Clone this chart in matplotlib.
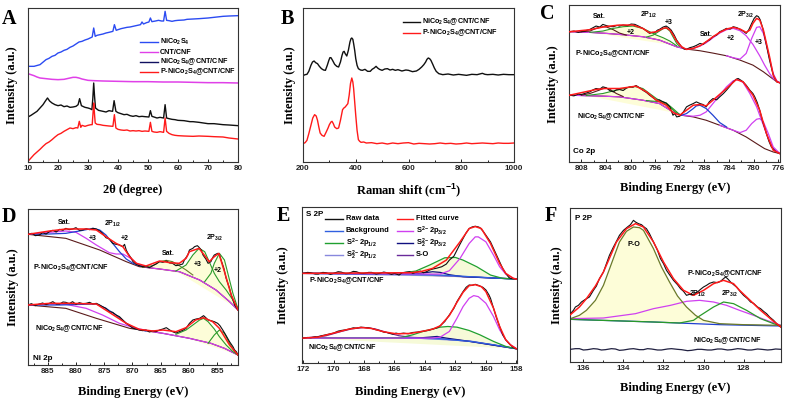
import matplotlib
matplotlib.use('Agg')
import matplotlib.pyplot as plt
from matplotlib.ticker import MultipleLocator
from matplotlib.lines import Line2D

plt.rcParams['font.family'] = ['Liberation Sans', 'DejaVu Sans']
plt.rcParams['font.weight'] = 'bold'
plt.rcParams['mathtext.fontset'] = 'custom'
plt.rcParams['mathtext.rm'] = 'Liberation Sans:bold'
plt.rcParams['mathtext.it'] = 'Liberation Sans:bold'
plt.rcParams['mathtext.bf'] = 'Liberation Sans:bold'
plt.rcParams['mathtext.default'] = 'rm'

# ---------------- Panel A: XRD ----------------
A_NICO = [(10,287),(12,287),(14,292),(16,307),(17,311),(18,317),(19,320),(20,327),(21,330),(22,335),(23,338),(24,344),(25,348),(26,354),(27,360),(28,362),(29,366),(30,369),(31.4,375),(31.9,402),(32.4,377),(33,380),(34,382),(35,384),(36,387),(37,389),(38.3,392),(38.8,412),(39.4,395),(40,397),(41,400),(42,402),(43,404),(44,405),(45,407),(46,409),(47.5,412),(48,420),(48.5,414),(49.5,418),(50.3,420),(50.8,432),(51.3,421),(52.5,423),(53.5,425),(54.5,423),(55.2,423),(55.7,452),(56.2,425),(57,424),(58,422),(59,424),(60,425),(62,426),(63,428),(65,429),(67,430),(70,432),(72,434),(75,437),(77,438),(80,439)]
A_CNT = [(10,265),(11,262),(12,259),(13,255),(14,252),(16,250),(18,248),(20,247),(22,248),(23,250),(24,252),(25,254),(26,254),(27,252),(28,249),(30,245),(32,244),(35,243),(40,242),(45,241),(50,241),(55,240),(60,240),(65,239),(70,238),(75,238),(80,237)]
A_NICO_CNT = [(10,135),(11,140),(12,146),(13,152),(14,162),(15,172),(15.8,183),(16.5,192),(17.2,183),(18,177),(19,172),(20,169),(21,171),(22,166),(23,168),(24,164),(25,165),(26,167),(26.7,172),(27.2,190),(27.8,169),(28.5,166),(29,164),(30,162),(30.7,160),(31.3,157),(31.6,190),(31.9,237),(32.2,195),(32.5,162),(33.5,155),(35,152),(36,150),(37,154),(38.2,152),(38.7,184),(39.3,152),(40,148),(41,145),(42,142),(43,143),(44,139),(45,137),(46,139),(47,136),(48,137),(49,136),(50.3,135),(50.8,154),(51.3,137),(52,135),(53,132),(54,134),(55.2,132),(55.7,172),(56.2,132),(57,130),(58,128),(59,127),(60,125),(62,124),(64,121),(65,121),(67,119),(70,115),(72,115),(75,112),(77,111),(80,109)]
A_P_NICO_CNT = [(10,2),(11,12),(12,22),(13,30),(14,38),(15,47),(16,55),(17,60),(18,67),(19,75),(20,82),(21,86),(22,92),(23,97),(24,102),(25,100),(26,103),(26.6,102),(27.1,122),(27.6,104),(28,110),(29,107),(30,110),(31,112),(31.4,112),(31.7,150),(31.9,177),(32.2,140),(32.4,117),(33,113),(34,112),(35,110),(36,109),(37,108),(38.3,107),(38.8,142),(39.3,102),(40,98),(41,96),(42,95),(43,96),(44,93),(45,94),(46,93),(47,94),(48,92),(49,93),(50.3,92),(50.8,119),(51.3,92),(52,90),(53,89),(54,91),(55.2,89),(55.7,132),(56.2,92),(57,86),(58,82),(59,80),(60,79),(62,78),(65,77),(67,78),(70,77),(72,76),(75,75),(77,72),(80,69)]
A_LABELS = ['NiCo$_2$S$_4$', 'CNT/CNF', 'NiCo$_2$S$_4$@CNT/CNF', 'P-NiCo$_2$S$_4$@CNT/CNF']

# ---------------- Panel B: Raman ----------------
B_NICO_CNT = [(200,259),(208,262),(215,263),(222,272),(230,290),(236,300),(242,303),(248,298),(255,295),(262,287),(270,280),(278,276),(285,275),(292,290),(298,305),(302,313),(306,313),(312,305),(320,293),(328,287),(335,285),(342,300),(348,320),(352,330),(356,332),(360,325),(366,318),(372,335),(378,360),(382,370),(385,372),(389,368),(392,355),(396,335),(400,310),(405,290),(410,280),(418,276),(425,275),(435,278),(445,272),(455,272),(462,278),(470,282),(477,287),(483,282),(490,278),(500,275),(510,279),(520,280),(530,276),(540,278),(550,275),(560,277),(575,273),(590,276),(600,275),(615,271),(630,273),(640,278),(650,285),(658,292),(665,300),(670,308),(675,312),(680,310),(685,305),(692,293),(698,282),(705,272),(715,265),(730,262),(750,264),(770,261),(790,263),(800,262),(820,260),(840,263),(860,262),(880,266),(890,263),(900,262),(920,263),(940,261),(960,263),(980,262),(1000,262)]
B_P_NICO_CNT = [(200,55),(208,58),(215,65),(222,85),(230,110),(237,132),(244,142),(250,138),(255,125),(260,105),(265,87),(272,80),(280,77),(288,90),(295,102),(300,112),(306,120),(310,122),(315,115),(320,105),(328,100),(335,102),(342,125),(350,157),(355,162),(360,165),(365,170),(370,175),(375,200),(380,235),(385,252),(389,240),(392,220),(396,180),(400,140),(405,95),(410,67),(415,62),(420,59),(430,60),(440,57),(460,58),(480,55),(500,57),(520,54),(540,57),(560,55),(580,57),(600,58),(620,54),(640,56),(660,55),(680,54),(700,55),(720,57),(740,55),(760,56),(780,54),(800,55),(820,57),(840,55),(860,56),(880,57),(900,56),(920,55),(940,57),(960,56),(980,56),(1000,57)]
B_LABELS = ['NiCo$_2$S$_4$@CNT/CNF', 'P-NiCo$_2$S$_4$@CNT/CNF']

# ---------------- Panel C: Co 2p ----------------
C_UP_RAW = [(809.9,390),(809.2,392),(808.5,388),(808.0,390),(807.3,393),(806.6,397),(806.1,402),(805.6,407),(805.0,404),(804.5,412),(804.2,410),(803.5,406),(802.8,405),(802.2,409),(801.8,407),(801.2,410),(800.5,408),(799.9,413),(799.3,412),(798.6,406),(798.0,400),(797.4,392),(796.9,385),(796.5,388),(796.1,387),(795.6,395),(795.3,397),(794.7,404),(794.2,407),(793.8,402),(793.4,395),(792.9,380),(792.5,365),(792.0,352),(791.7,345),(791.3,338),(790.9,337),(790.4,342),(789.8,345),(789.3,349),(788.7,355),(788.2,352),(787.7,360),(787.1,366),(786.6,375),(786.0,380),(785.5,390),(784.9,395),(784.4,400),(783.8,398),(783.3,405),(782.7,402),(782.2,397),(781.7,392),(781.2,385),(780.8,395),(780.3,415),(779.9,430),(779.5,438),(779.2,435),(778.9,425),(778.5,400),(778.2,375),(777.8,340),(777.4,305),(777.0,275),(776.7,255),(776.4,245),(776.2,240),(775.7,237)]
C_UP_FIT = [(809.9,390),(806.6,396),(804.2,405),(801.8,410),(799.6,410),(798.0,400),(796.9,387),(795.8,390),(794.7,400),(794.2,402),(793.6,395),(793.0,378),(792.5,362),(791.7,345),(790.9,337),(789.8,340),(788.7,348),(787.7,360),(786.6,375),(785.5,388),(784.4,398),(783.3,403),(782.2,398),(781.2,388),(780.6,395),(780.1,415),(779.5,430),(779.0,425),(778.4,395),(777.9,355),(777.4,315),(776.8,260),(776.2,240),(775.7,237)]
C_UP_BG = [(809.9,390),(806.6,388),(803.9,385),(801.2,381),(798.0,375),(795.3,365),(792.5,345),(790.9,338),(788.7,333),(786.6,326),(784.4,318),(782.2,305),(780.1,290),(778.4,270),(777.1,252),(776.2,240),(775.7,237)]
C_UP_SAT = [(808.0,390),(806.6,392),(805.6,400),(804.5,405),(803.9,404),(802.8,396),(801.8,386),(800.7,380)]
C_UP_CO2_12 = [(806.6,388),(804.5,392),(802.8,400),(801.2,405),(799.6,407),(798.0,400),(796.9,390),(795.8,380),(794.7,372),(793.6,362),(792.5,348)]
C_UP_CO3_12 = [(797.4,374),(796.3,380),(795.3,392),(794.7,399),(794.2,401),(793.6,392),(793.1,375),(792.5,355),(792.0,346)]
C_UP_CO2_32 = [(809.9,390),(806.6,388),(803.9,385),(801.2,381),(798.0,375),(795.3,365),(792.5,345),(790.9,338),(789.8,340),(788.7,347),(787.7,357),(786.6,372),(785.5,386),(784.4,396),(783.3,400),(782.2,393),(781.2,378),(780.1,352),(779.0,318),(778.2,290),(777.4,265),(776.7,248),(775.7,237)]
C_UP_CO3_32 = [(784.4,318),(783.3,312),(782.2,308),(781.2,325),(780.3,370),(779.5,403),(779.0,405),(778.4,385),(777.9,350),(777.4,310),(776.8,265),(776.2,242),(775.7,237)]

C_LO_RAW = [(809.9,200),(809.2,198),(808.5,203),(808.0,202),(807.3,206),(806.6,210),(806.1,216),(805.6,220),(805.0,218),(804.5,225),(803.9,222),(803.4,214),(802.8,210),(802.3,216),(801.8,217),(801.2,214),(800.6,222),(800.1,225),(799.6,224),(799.1,229),(798.5,222),(798.0,215),(797.4,208),(796.9,200),(796.3,192),(795.8,185),(795.3,186),(794.7,180),(794.2,176),(793.6,165),(793.1,140),(792.8,145),(792.5,135),(792.0,137),(791.4,150),(790.9,165),(790.4,170),(789.8,175),(789.3,180),(788.7,175),(788.2,172),(787.7,165),(787.2,180),(786.6,190),(786.0,186),(785.5,195),(784.9,205),(784.4,215),(783.8,228),(783.3,240),(782.8,248),(782.5,250),(782.0,244),(781.7,240),(781.2,230),(780.6,215),(780.1,205),(779.8,195),(779.4,178),(779.0,155),(778.5,120),(777.9,85),(777.5,62),(777.1,45),(776.6,35),(776.3,30),(775.7,25)]
C_LO_FIT = [(809.9,200),(805.6,217),(804.2,220),(801.8,220),(799.1,227),(797.4,210),(795.8,185),(794.2,170),(793.1,148),(792.0,140),(790.9,155),(789.8,170),(788.7,172),(787.7,168),(786.6,185),(784.4,220),(782.8,247),(781.7,240),(780.1,200),(779.0,155),(777.9,85),(776.8,35),(775.7,25)]
C_LO_BG = [(809.9,200),(804.2,197),(801.8,195),(798.0,185),(795.3,175),(793.1,150),(791.7,140),(789.8,135),(787.7,125),(785.5,110),(783.3,95),(781.2,75),(779.5,55),(778.2,40),(776.8,30),(775.7,25)]
C_LO_SAT = [(808.0,200),(806.6,205),(805.1,215),(804.2,222),(803.4,218),(802.3,205),(801.2,196)]
C_LO_CO2_12 = [(807.2,199),(804.5,205),(802.3,215),(800.7,222),(799.3,226),(798.0,220),(796.9,205),(795.8,190),(794.7,178),(793.6,165),(792.5,146)]
C_LO_CO3_12 = [(797.4,184),(796.3,182),(795.3,181),(794.7,180),(794.2,177),(793.1,160),(792.0,142)]
C_LO_SAT2 = [(791.7,140),(790.9,145),(789.8,160),(789.3,168),(788.7,170),(787.7,160),(786.6,140),(785.5,118),(784.4,105)]
C_LO_CO2_32 = [(809.9,200),(804.2,197),(801.8,195),(798.0,185),(795.3,175),(793.1,150),(791.7,140),(789.8,137),(788.7,140),(787.7,150),(786.6,175),(785.5,200),(784.4,225),(783.3,243),(782.5,247),(781.7,238),(780.6,205),(779.5,165),(778.4,110),(777.6,70),(776.8,40),(775.7,25)]
C_LO_CO3_32 = [(785.5,110),(783.3,95),(782.2,88),(781.2,95),(780.3,115),(779.5,128),(779.0,130),(778.4,120),(777.6,85),(776.8,45),(775.7,25)]

# ---------------- Panel D: Ni 2p ----------------
D_UP_RAW = [(888.5,392),(887.8,395),(887.2,388),(886.5,390),(885.9,397),(885.3,393),(884.7,400),(884.1,404),(883.5,399),(882.9,407),(882.3,404),(881.8,410),(881.2,406),(880.6,408),(880.0,412),(879.4,404),(878.8,405),(878.2,409),(877.6,406),(877.0,410),(876.4,408),(875.8,402),(875.3,395),(874.7,382),(874.1,378),(873.5,365),(872.9,362),(872.3,360),(871.7,355),(871.4,362),(871.1,345),(870.8,335),(870.2,320),(869.9,310),(869.3,302),(868.8,298),(868.2,295),(867.6,295),(867.0,292),(866.4,298),(865.8,303),(865.2,310),(864.6,308),(864.0,312),(863.4,306),(862.9,305),(862.3,298),(861.7,300),(861.1,303),(860.8,315),(860.2,330),(859.9,345),(859.3,350),(859.0,355),(858.5,358),(858.2,353),(857.8,345),(857.5,330),(857.0,318),(856.6,305),(856.1,310),(855.8,322),(855.5,330),(854.9,335),(854.6,332),(854.3,315),(853.8,290),(853.4,260),(852.8,230),(852.5,210),(851.9,180),(851.6,172),(851.3,165)]
D_UP_FIT = [(888.5,392),(884.7,402),(881.8,408),(878.2,408),(876.4,405),(874.7,385),(872.9,365),(871.7,355),(870.5,325),(869.3,305),(867.6,297),(865.2,312),(863.4,307),(861.7,305),(860.5,320),(859.9,340),(858.2,350),(857.2,328),(856.4,310),(855.5,325),(854.7,335),(853.7,280),(852.5,210),(851.3,165)]
D_UP_BG = [(888.5,392),(881.8,380),(875.8,345),(871.1,310),(868.8,295),(865.2,288),(861.7,280),(858.1,255),(855.2,225),(852.8,190),(851.3,165)]
D_UP_SAT = [(888.5,392),(884.7,398),(881.8,402),(880.0,398),(878.2,380),(876.4,360),(874.1,337),(872.9,333),(871.7,333),(870.5,322),(869.3,305),(867.6,293),(865.2,288),(861.7,280),(858.1,255),(855.2,225),(852.8,190),(851.3,165)]
D_UP_NI3_12 = [(888.5,392),(884.7,393),(881.8,395),(879.4,402),(877.0,410),(875.8,405),(874.7,390),(873.5,365),(872.3,340),(871.1,318),(869.9,305),(868.8,298),(867.6,295)]
D_UP_SAT32 = [(868.2,293),(866.4,298),(865.2,310),(864.0,314),(862.9,310),(861.7,298),(860.5,285),(859.3,270)]
D_UP_NI3_32 = [(862.3,282),(860.5,300),(859.3,330),(858.2,350),(857.2,340),(856.4,310),(855.5,275),(854.6,250),(853.4,225),(852.2,195),(851.3,168)]
D_UP_NI2_32 = [(857.2,250),(856.1,275),(855.5,305),(854.6,335),(853.7,315),(852.8,255),(852.2,215),(851.3,168)]

D_LO_RAW = [(888.5,180),(887.9,184),(887.2,178),(886.5,183),(885.9,186),(885.3,181),(884.7,185),(884.1,190),(883.5,183),(882.9,183),(882.3,189),(881.8,188),(881.2,184),(880.6,190),(880.0,182),(879.4,187),(878.8,184),(878.2,185),(877.6,188),(877.0,183),(876.4,185),(875.8,180),(875.3,175),(874.7,170),(874.1,160),(873.5,158),(872.9,150),(872.3,145),(871.7,135),(871.1,125),(870.5,118),(869.9,110),(869.3,108),(868.8,105),(868.2,103),(867.6,105),(867.0,99),(866.4,102),(865.8,100),(865.2,105),(864.6,108),(864.0,112),(863.4,105),(862.9,100),(862.3,96),(861.7,100),(861.1,104),(860.5,110),(859.9,125),(859.3,135),(858.7,138),(858.1,140),(857.4,148),(857.0,142),(856.6,135),(856.1,133),(855.5,130),(854.9,125),(854.5,118),(854.0,105),(853.4,88),(852.8,70),(852.2,55),(851.9,45),(851.6,40),(851.3,30)]
D_LO_FIT = [(888.5,180),(884.7,185),(881.0,185),(876.4,183),(874.1,158),(871.1,125),(868.8,107),(866.4,102),(864.6,105),(862.3,100),(860.5,112),(858.8,135),(857.4,142),(855.8,130),(854.6,110),(853.7,85),(852.8,60),(851.3,30)]
D_LO_BG = [(888.5,180),(881.8,170),(876.4,140),(870.5,110),(864.6,95),(859.9,80),(856.1,65),(853.7,50),(851.3,30)]
D_LO_SAT = [(888.5,180),(884.7,183),(881.8,182),(878.2,170),(875.3,150),(872.3,125),(869.3,110),(866.4,100),(864.6,95),(859.9,80),(856.1,65),(853.7,50),(851.3,30)]
D_LO_NI3_12 = [(888.5,180),(882.9,180),(878.8,182),(876.4,183),(874.7,170),(872.9,150),(871.1,125),(869.3,108),(867.6,102)]
D_LO_NI3_32 = [(862.3,92),(860.5,105),(859.3,120),(858.1,135),(857.4,140),(856.6,130),(855.5,108),(854.6,85),(853.4,60),(852.2,40),(851.3,30)]
D_LO_NI2_32 = [(856.6,65),(855.5,90),(854.6,105),(853.7,95),(852.8,65),(851.9,40),(851.3,30)]

# ---------------- Panel E: S 2p ----------------
E_UP_RAW = [(172.0,270),(171.7,273),(171.5,272),(171.2,268),(171.0,268),(170.7,273),(170.5,272),(170.2,267),(170.0,270),(169.7,275),(169.5,274),(169.2,269),(169.0,270),(168.7,276),(168.5,275),(168.2,270),(168.0,270),(167.7,273),(167.5,273),(167.2,268),(167.0,270),(166.7,274),(166.5,272),(166.2,267),(166.0,270),(165.7,265),(165.5,272),(165.2,274),(165.0,275),(164.8,270),(164.6,273),(164.3,277),(164.1,272),(163.9,275),(163.7,280),(163.5,283),(163.2,286),(162.9,290),(162.6,298),(162.4,310),(162.1,322),(161.9,340),(161.7,358),(161.5,375),(161.3,392),(161.1,405),(160.9,410),(160.7,412),(160.5,410),(160.4,408),(160.2,398),(160.0,385),(159.7,365),(159.5,345),(159.3,325),(159.1,305),(158.9,285),(158.7,270),(158.5,258),(158.4,255),(158.2,254),(158.0,253)]
E_UP_FIT = [(172.0,270),(165.0,272),(164.3,275),(163.5,285),(162.6,310),(161.7,365),(161.1,405),(160.7,411),(160.3,405),(159.7,360),(159.1,300),(158.7,270),(158.2,255),(158.0,253)]
E_UP_BG = [(172.0,270),(166.0,268),(163.0,265),(161.0,260),(159.0,255),(158.0,253)]
E_UP_S_32 = [(172.0,270),(163.5,268),(163.0,268),(162.4,278),(161.7,315),(161.1,360),(160.7,380),(160.5,380),(160.0,365),(159.5,325),(159.1,290),(158.7,268),(158.2,255),(158.0,253)]
E_UP_S_12 = [(172.0,270),(165.7,270),(164.6,277),(163.7,295),(162.7,317),(162.0,318),(161.5,310),(160.6,290),(159.7,265),(158.9,255),(158.0,253)]
E_UP_S2_32 = [(172.0,270),(164.8,268),(164.0,272),(163.5,275),(163.0,273),(162.4,266),(161.5,260),(158.0,253)]
E_UP_S2_12 = [(172.0,270),(162.0,262),(158.0,253)]
E_UP_SO = [(172.0,271),(166.0,269),(158.0,253)]

E_LO_RAW = [(172.0,75),(171.7,77),(171.5,76),(171.2,79),(171.1,78),(170.8,82),(170.5,85),(170.2,88),(170.0,90),(169.7,96),(169.5,98),(169.2,100),(169.0,102),(168.7,106),(168.5,105),(168.2,108),(168.0,107),(167.7,106),(167.5,104),(167.2,100),(167.0,98),(166.7,93),(166.5,92),(166.3,89),(166.1,87),(165.9,90),(165.7,88),(165.4,90),(165.1,88),(164.8,92),(164.5,93),(164.3,95),(163.9,97),(163.7,99),(163.5,102),(163.2,106),(163.0,112),(162.7,125),(162.4,145),(162.1,165),(161.9,185),(161.7,200),(161.5,215),(161.3,228),(161.1,235),(160.9,234),(160.7,237),(160.5,234),(160.4,232),(160.2,228),(160.0,220),(159.8,205),(159.7,195),(159.5,165),(159.3,135),(159.1,110),(158.9,85),(158.7,70),(158.4,55),(158.2,46),(158.0,43)]
E_LO_FIT = [(172.0,75),(171.0,78),(170.0,90),(169.0,102),(168.2,107),(167.5,104),(166.7,94),(165.9,88),(165.0,89),(164.3,94),(163.5,102),(163.0,112),(162.4,143),(161.9,183),(161.5,213),(161.1,233),(160.7,236),(160.3,230),(160.0,215),(159.5,165),(159.1,110),(158.7,70),(158.4,55),(158.0,43)]
E_LO_BG = [(172.0,75),(165.0,75),(163.0,73),(161.0,65),(159.5,55),(158.5,47),(158.0,43)]
E_LO_SO = [(172.0,75),(170.5,82),(169.5,95),(168.8,103),(168.0,107),(167.3,103),(166.5,92),(165.7,82),(164.8,77),(163.5,75),(161.0,65),(158.0,43)]
E_LO_S_32 = [(172.0,75),(163.5,75),(163.0,78),(162.4,95),(161.9,135),(161.5,170),(161.1,195),(160.8,203),(160.5,200),(160.0,180),(159.5,140),(159.1,100),(158.7,70),(158.4,55),(158.0,43)]
E_LO_S_12 = [(172.0,75),(165.7,75),(164.8,85),(164.0,97),(163.0,108),(162.5,110),(161.9,108),(161.1,98),(160.4,85),(159.5,65),(158.7,50),(158.0,43)]
E_LO_S2_32 = [(172.0,75),(164.5,75),(163.7,78),(163.2,80),(162.6,75),(161.5,68),(158.0,43)]
E_LO_S2_12 = [(172.0,76),(165.0,76),(161.0,66),(158.0,43)]
E_LEGEND = ['Raw data', 'Fitted curve', 'Background', 'S$^{2-}$2p$_{3/2}$',
            'S$^{2-}$2p$_{1/2}$', 'S$_2^{2-}$2p$_{3/2}$', 'S$_2^{2-}$2p$_{1/2}$', 'S-O']

# ---------------- Panel F: P 2p ----------------
F_UP_RAW = [(136.65,145),(136.5,155),(136.4,165),(136.25,170),(136.1,180),(135.9,188),(135.7,195),(135.5,215),(135.35,228),(135.2,250),(135.0,270),(134.85,295),(134.7,320),(134.5,345),(134.35,362),(134.2,380),(134.0,395),(133.8,405),(133.65,412),(133.5,425),(133.4,420),(133.25,415),(133.1,412),(132.95,404),(132.85,400),(132.7,385),(132.5,360),(132.3,335),(132.15,310),(132.0,295),(131.85,275),(131.7,262),(131.5,245),(131.3,232),(131.15,220),(131.0,212),(130.85,200),(130.7,203),(130.5,200),(130.3,210),(130.15,218),(130.0,225),(129.85,230),(129.7,236),(129.5,240),(129.3,238),(129.15,242),(129.0,250),(128.9,255),(128.8,250),(128.65,240),(128.5,232),(128.35,225),(128.15,210),(128.0,200),(127.8,190),(127.65,180),(127.5,176),(127.3,165),(127.15,160),(127.0,152),(126.85,145),(126.7,135),(126.5,125),(126.3,112),(126.15,105)]
F_UP_FIT = [(136.65,142),(136.2,165),(135.85,190),(135.4,228),(135.0,270),(134.6,325),(134.35,360),(133.85,400),(133.4,415),(133.0,405),(132.5,360),(132.0,300),(131.5,250),(131.0,215),(130.5,200),(130.0,215),(129.5,235),(129.0,245),(128.5,235),(128.2,215),(127.85,195),(127.5,175),(127.15,155),(126.5,122),(126.13,105)]
F_UP_PO = [(136.65,130),(136.2,140),(135.85,155),(135.4,185),(135.0,230),(134.6,295),(134.2,360),(133.85,392),(133.5,405),(133.2,403),(133.0,395),(132.5,340),(132.1,285),(131.7,240),(131.3,198),(130.85,165),(130.4,140),(130.0,125),(129.2,115),(128.0,112),(126.13,110)]
F_UP_P12 = [(136.65,130),(135.0,132),(133.4,145),(132.5,160),(131.65,170),(130.85,182),(130.2,185),(129.5,180),(128.85,170),(128.2,155),(127.5,140),(126.85,125),(126.13,110)]
F_UP_P32 = [(136.65,128),(132.5,120),(131.2,117),(130.5,125),(130.2,138),(129.5,165),(129.0,180),(128.5,175),(127.85,155),(127.15,130),(126.5,115),(126.13,108)]
F_UP_BG = [(136.65,128),(132.5,120),(129.2,112),(126.13,108)]
F_LO_RAW = [(136.65,38),(136.4,40),(136.2,40),(136.0,36),(135.8,37),(135.5,40),(135.3,39),(135.1,36),(134.9,37),(134.6,40),(134.4,39),(134.2,35),(134.0,36),(133.7,39),(133.5,40),(133.2,37),(133.0,37),(132.8,40),(132.6,39),(132.3,36),(132.1,36),(131.8,39),(131.6,40),(131.3,38),(131.1,37),(130.8,34),(130.6,35),(130.3,38),(130.1,38),(129.8,36),(129.6,36),(129.3,39),(129.1,39),(128.8,36),(128.6,37),(128.3,40),(128.1,39),(127.8,36),(127.6,36),(127.3,39),(127.1,38),(126.8,36),(126.6,37),(126.4,39),(126.13,38)]

SAMPLE_P = 'P-NiCo$_2$S$_4$@CNT/CNF'
SAMPLE = 'NiCo$_2$S$_4$@CNT/CNF'

# ---------------- drawing ----------------
W, H = 789, 401
fig = plt.figure(figsize=(W / 100, H / 100), dpi=100)
SERIF = ['Liberation Serif', 'DejaVu Serif']

BLACK = '#101010'
RED = '#ff1a1a'
MAG = '#d040f0'
GREEN = '#2a9a2a'
OLIVE = '#6b7a2a'
BROWN = '#5a1a1a'
BLUE = '#2040d0'
FILL = '#fdfdd8'


def add_ax(l, t, r, b):
    return fig.add_axes([l / W, 1 - b / H, (r - l) / W, (b - t) / H])


def style(ax, xlim, ylim, major, minor):
    ax.set_xlim(*xlim)
    ax.set_ylim(*ylim)
    ax.xaxis.set_major_locator(MultipleLocator(major))
    ax.xaxis.set_minor_locator(MultipleLocator(minor))
    ax.tick_params(axis='x', which='both', direction='in', top=False,
                   labelsize=5.8, pad=2.2, width=0.7, colors='#222222')
    ax.tick_params(axis='x', which='major', length=2.5)
    ax.tick_params(axis='x', which='minor', length=1.5)
    ax.set_yticks([])
    for s in ax.spines.values():
        s.set_linewidth(0.8)
        s.set_color('#333333')


def line(ax, pts, color, lw=0.8, z=2):
    xs, ys = zip(*pts)
    ax.plot(xs, ys, color=color, lw=lw, zorder=z, solid_joinstyle='round')


def fillc(ax, pts, color=FILL):
    xs, ys = zip(*pts)
    ax.fill(xs, ys, color=color, lw=0, zorder=1)


def ftext(x, y, s, size=5.2, ha='left', **kw):
    fig.text(x / W, 1 - y / H, s, fontsize=size, ha=ha, va='center',
             fontweight='bold', **kw)


def letter(x, y, s):
    fig.text(x / W, 1 - y / H, s, fontsize=14.5, fontweight='bold',
             family=SERIF, ha='left', va='top')


def xlab(x, y, s):
    fig.text(x / W, 1 - y / H, s, fontsize=9, fontweight='bold',
             family=SERIF, ha='center', va='center')


def ylab(x, y):
    fig.text(x / W, 1 - y / H, 'Intensity (a.u.)', fontsize=9,
             fontweight='bold', family=SERIF, ha='center', va='center',
             rotation=90)


def leg(x0, x1, y, color, label, tx=None, size=5.2):
    fig.add_artist(Line2D([x0 / W, x1 / W], [1 - y / H, 1 - y / H],
                          color=color, lw=1.0, transform=fig.transFigure))
    ftext(tx if tx is not None else x1 + 2, y, label, size=size)


# ---- A
ax = add_ax(28, 8, 238, 162)
style(ax, (10, 80), (0, 462), 10, 5)
line(ax, A_NICO, '#2b4bf2', 1.0)
line(ax, A_CNT, '#e040e8', 1.1)
line(ax, A_NICO_CNT, BLACK, 1.0)
line(ax, A_P_NICO_CNT, RED, 1.0)
for i, (c, lab) in enumerate(zip(['#2b4bf2', '#e040e8', '#101060', RED], A_LABELS)):
    leg(140, 158, 42 + 10 * i, c, lab)
letter(2, 9, 'A')
xlab(133, 190, '2θ (degree)')
ylab(12, 85)

# ---- B
ax = add_ax(303, 8, 514, 162)
style(ax, (200, 1000), (0, 462), 200, 100)
line(ax, B_NICO_CNT, BLACK, 1.0)
line(ax, B_P_NICO_CNT, RED, 1.0)
leg(403, 420, 22, BLACK, B_LABELS[0])
leg(403, 420, 33, RED, B_LABELS[1])
letter(281, 9, 'B')
xlab(408, 190, 'Raman shift (cm$^{-1}$)')
ylab(290, 85)

# ---- C
ax = add_ax(569, 5, 780, 162)
style(ax, (810.0, 775.7), (0, 470), 4, 2)
for g in (C_UP_CO2_12, C_LO_CO2_12):
    fillc(ax, g)
for bg in (C_UP_BG, C_LO_BG):
    line(ax, bg, BROWN, 0.8)
for m in (C_UP_CO2_32, C_UP_CO3_32, C_LO_CO2_32, C_LO_CO3_32):
    line(ax, m, MAG, 0.9)
for s in (C_UP_SAT, C_LO_SAT):
    line(ax, s, BROWN, 0.8)
for g in (C_UP_CO2_12, C_UP_CO3_12, C_LO_CO2_12, C_LO_CO3_12):
    line(ax, g, GREEN, 0.8)
line(ax, C_LO_SAT2, BLUE, 0.9)
line(ax, C_UP_RAW, BLACK, 0.8, 3)
line(ax, C_LO_RAW, BLACK, 0.8, 3)
line(ax, C_UP_FIT, RED, 1.1, 4)
line(ax, C_LO_FIT, RED, 1.1, 4)
ftext(593, 16, 'Sat.', 5)
ftext(640, 15, '2P$_{1/2}$', 5)
ftext(665, 22, '+3', 5)
ftext(627, 32, '+2', 5)
ftext(700, 35, 'Sat.', 5)
ftext(727, 38, '+2', 5)
ftext(737, 15, '2P$_{3/2}$', 5)
ftext(755, 42, '+3', 5)
ftext(575, 54, SAMPLE_P, 5.2)
ftext(577, 117, SAMPLE, 5.2)
ftext(573, 152, 'Co 2p', 5.8)
letter(540, 4, 'C')
xlab(675, 188, 'Binding Energy (eV)')
ylab(553, 84)

# ---- D
ax = add_ax(28, 209, 238, 365)
style(ax, (888.5, 851.3), (0, 468), 5, 2.5)
for g in (D_UP_SAT32, D_UP_NI3_32, D_UP_NI2_32, D_LO_NI3_32, D_LO_NI2_32):
    fillc(ax, g)
for bg in (D_UP_BG, D_LO_BG):
    line(ax, bg, BROWN, 0.8)
for m in (D_UP_SAT, D_LO_SAT):
    line(ax, m, MAG, 0.9)
for b in (D_UP_NI3_12, D_LO_NI3_12):
    line(ax, b, BLUE, 0.9)
line(ax, D_UP_SAT32, OLIVE, 0.8)
for g in (D_UP_NI3_32, D_UP_NI2_32, D_LO_NI3_32, D_LO_NI2_32):
    line(ax, g, GREEN, 0.8)
line(ax, D_UP_RAW, BLACK, 0.8, 3)
line(ax, D_LO_RAW, BLACK, 0.8, 3)
line(ax, D_UP_FIT, RED, 1.1, 4)
line(ax, D_LO_FIT, RED, 1.1, 4)
ftext(58, 222, 'Sat.', 5)
ftext(104, 224, '2P$_{1/2}$', 5)
ftext(89, 238, '+3', 5)
ftext(121, 239, '+2', 5)
ftext(162, 254, 'Sat.', 5)
ftext(206, 238, '2P$_{3/2}$', 5)
ftext(194, 265, '+3', 5)
ftext(214, 271, '+2', 5)
ftext(33, 268, SAMPLE_P, 5.2)
ftext(35, 329, SAMPLE, 5.2)
ftext(33, 358, 'Ni 2p', 5.8)
letter(2, 207, 'D')
xlab(133, 392, 'Binding Energy (eV)')
ylab(13, 287)

# ---- E
ax = add_ax(302, 207, 517, 363)
style(ax, (172.07, 157.96), (0, 470), 2, 1)
fillc(ax, E_UP_S_12, '#f6fad8')
fillc(ax, E_LO_S_12, '#f6fad8')
E_COLORS = [BLACK, RED, '#3060e0', MAG, '#20a030', '#101080', '#8888dd', '#6a2a9a']
for pts, c in ((E_UP_SO, E_COLORS[7]), (E_LO_SO, E_COLORS[7]),
               (E_UP_S2_12, E_COLORS[6]), (E_LO_S2_12, E_COLORS[6]),
               (E_UP_S2_32, E_COLORS[5]), (E_LO_S2_32, E_COLORS[5]),
               (E_UP_BG, E_COLORS[2]), (E_LO_BG, E_COLORS[2]),
               (E_UP_S_12, E_COLORS[4]), (E_LO_S_12, E_COLORS[4]),
               (E_UP_S_32, E_COLORS[3]), (E_LO_S_32, E_COLORS[3])):
    line(ax, pts, c, 0.9)
line(ax, E_UP_RAW, BLACK, 0.8, 3)
line(ax, E_LO_RAW, BLACK, 0.8, 3)
line(ax, E_UP_FIT, RED, 1.1, 4)
line(ax, E_LO_FIT, RED, 1.1, 4)
for i, (lab, c) in enumerate(zip(E_LEGEND, E_COLORS)):
    row, col = divmod(i, 2)
    y = 219 + 12 * row
    if col == 0:
        leg(325, 343, y, c, lab, tx=346, size=5.4)
    else:
        leg(397, 413, y, c, lab, tx=416, size=5.4)
ftext(306, 215, 'S 2P', 5.8)
ftext(309, 281, SAMPLE_P, 5.2)
ftext(308, 348, SAMPLE, 5.2)
letter(277, 206, 'E')
xlab(410, 392, 'Binding Energy (eV)')
ylab(283, 285)

# ---- F
ax = add_ax(570, 208, 781, 362)
style(ax, (136.67, 126.13), (0, 462), 2, 1)
fillc(ax, F_UP_PO)
line(ax, F_UP_BG, BLUE, 0.9)
line(ax, F_UP_P12, MAG, 0.9)
line(ax, F_UP_P32, GREEN, 0.9)
line(ax, F_UP_PO, OLIVE, 0.9)
line(ax, F_UP_RAW, BLACK, 0.8, 3)
line(ax, F_UP_FIT, RED, 1.1, 4)
line(ax, F_LO_RAW, '#202040', 0.9, 3)
ftext(575, 218, 'P 2P', 5.8)
ftext(628, 245, 'P-O', 5.2)
ftext(689, 294, '2P$_{1/2}$', 5)
ftext(721, 294, '2P$_{3/2}$', 5)
ftext(687, 274, SAMPLE_P, 5.2)
ftext(693, 341, SAMPLE, 5.2)
letter(545, 206, 'F')
xlab(675, 388, 'Binding Energy (eV)')
ylab(557, 285)

fig.savefig('out.png', dpi=100)
